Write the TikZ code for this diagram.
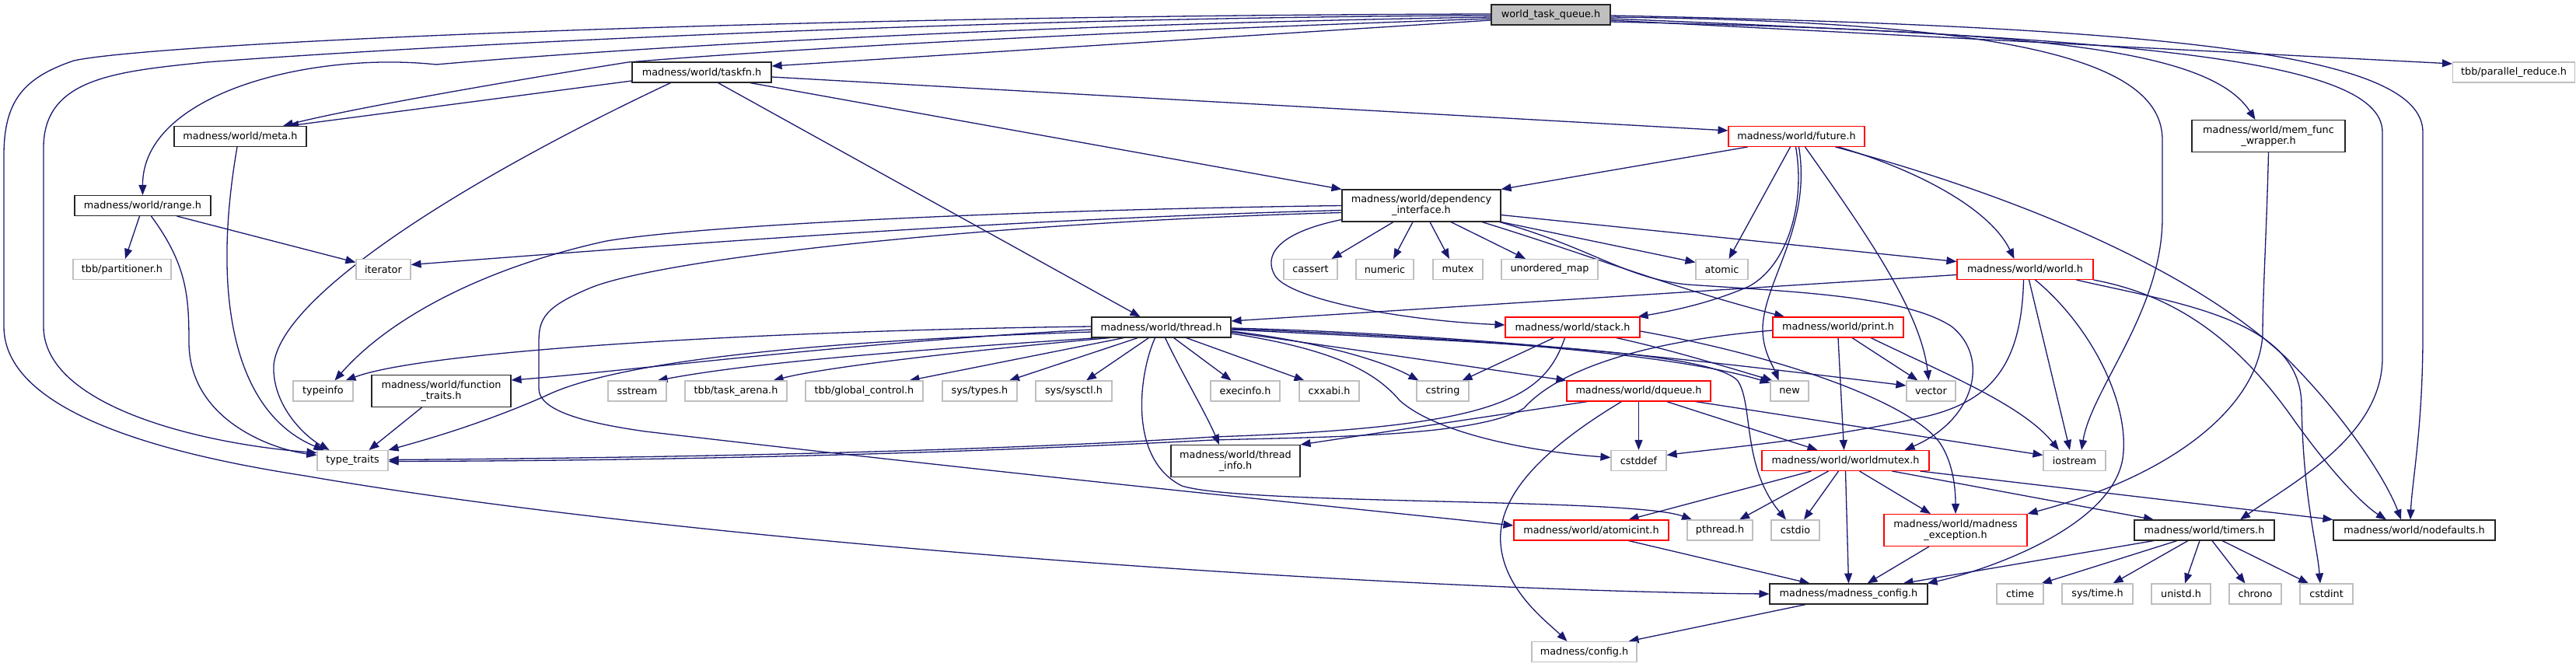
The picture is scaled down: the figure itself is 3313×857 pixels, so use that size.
\documentclass[tikz,border=0pt]{standalone}
\usepackage{fontspec}
\setmainfont{DejaVu Sans}
\usetikzlibrary{arrows.meta,backgrounds}
\definecolor{edgec}{RGB}{25,25,112}
\definecolor{extc}{RGB}{191,191,191}
\definecolor{rootc}{RGB}{191,191,191}
\newcommand{\nf}{\fontsize{12.8}{14}\selectfont}
\begin{document}
\begin{tikzpicture}[x=1pt,y=-1pt,
 nbase/.style={inner sep=0pt, minimum height=26pt, font=\nf, fill=white, align=center},
 doc/.style={nbase, draw=black!85, line width=1.1pt},
 ext/.style={nbase, draw=extc, line width=1.1pt},
 trunc/.style={nbase, draw=red, line width=1.1pt},
 rootn/.style={nbase, draw=black!85, fill=rootc, line width=1.1pt},
 tall/.style={minimum height=41pt},
 edge/.style={draw=edgec, line width=1.3pt, arrows={-Triangle[length=13pt,width=10pt]}}
]
\useasboundingbox (0,0) rectangle (3313,857);
% nodes
\node[rootn, minimum width=153pt] (root) at (1994.5,19) {world\_task\_queue.h};
\node[doc, minimum width=179pt] (taskfn) at (902.5,93) {madness/world/taskfn.h};
\node[doc, minimum width=170pt] (meta) at (309,175.5) {madness/world/meta.h};
\node[doc, minimum width=175pt] (range) at (183.5,264.5) {madness/world/range.h};
\node[ext, minimum width=126pt] (partitioner) at (157,346.5) {tbb/partitioner.h};
\node[ext, minimum width=70pt] (iterator) at (493,346.5) {iterator};
\node[trunc, minimum width=175pt] (future) at (2310.5,175.5) {madness/world/future.h};
\node[doc, tall, minimum width=197pt] (memfunc) at (2917.5,175) {madness/world/mem\_func\\\_wrapper.h};
\node[ext, minimum width=157pt] (preduce) at (3233,93) {tbb/parallel\_reduce.h};
\node[doc, tall, minimum width=204pt] (dep) at (1828,264.5) {madness/world/dependency\\\_interface.h};
\node[ext, minimum width=69pt] (cassert) at (1685.5,346.5) {cassert};
\node[ext, minimum width=74pt] (numeric) at (1781,346.5) {numeric};
\node[ext, minimum width=64pt] (mutex) at (1875,346.5) {mutex};
\node[ext, minimum width=124pt] (umap) at (1993,346.5) {unordered\_map};
\node[ext, minimum width=67pt] (atomic) at (2214.5,346.5) {atomic};
\node[trunc, minimum width=175pt] (world) at (2604.5,346.5) {madness/world/world.h};
\node[doc, minimum width=179pt] (thread) at (1493.5,421) {madness/world/thread.h};
\node[trunc, minimum width=173pt] (stack) at (2022.5,421) {madness/world/stack.h};
\node[trunc, minimum width=168pt] (print) at (2364,421) {madness/world/print.h};
\node[ext, minimum width=77pt] (typeinfo) at (415.5,503) {typeinfo};
\node[doc, tall, minimum width=179pt] (ftraits) at (567.5,503) {madness/world/function\\\_traits.h};
\node[ext, minimum width=75pt] (sstream) at (819.5,503) {sstream};
\node[ext, minimum width=131pt] (tarena) at (946.5,503) {tbb/task\_arena.h};
\node[ext, minimum width=151pt] (gcontrol) at (1111.5,503) {tbb/global\_control.h};
\node[ext, minimum width=96pt] (systypes) at (1260,503) {sys/types.h};
\node[ext, minimum width=98pt] (sysctl) at (1381,503) {sys/sysctl.h};
\node[ext, minimum width=89pt] (execinfo) at (1601.5,503) {execinfo.h};
\node[ext, minimum width=77pt] (cxxabi) at (1709.5,503) {cxxabi.h};
\node[ext, minimum width=67pt] (cstring) at (1855.5,503) {cstring};
\node[trunc, minimum width=185pt] (dqueue) at (2107.5,503) {madness/world/dqueue.h};
\node[ext, minimum width=49pt] (newh) at (2301.5,503) {new};
\node[ext, minimum width=63pt] (vector) at (2483.5,503) {vector};
\node[ext, minimum width=91pt] (ttraits) at (453.5,592.5) {type\_traits};
\node[doc, tall, minimum width=166pt] (tinfo) at (1589,593) {madness/world/thread\\\_info.h};
\node[ext, minimum width=71pt] (cstddef) at (2107.5,592.5) {cstddef};
\node[trunc, minimum width=215pt] (wmutex) at (2373.5,592.5) {madness/world/worldmutex.h};
\node[ext, minimum width=80pt] (iostream) at (2668,592.5) {iostream};
\node[trunc, minimum width=199pt] (aint) at (2046.5,682) {madness/world/atomicint.h};
\node[ext, minimum width=84pt] (pthread) at (2212,682) {pthread.h};
\node[ext, minimum width=62pt] (cstdio) at (2309,682) {cstdio};
\node[trunc, tall, minimum width=184pt] (mexc) at (2515,682) {madness/world/madness\\\_exception.h};
\node[doc, minimum width=180pt] (timers) at (2835,682) {madness/world/timers.h};
\node[doc, minimum width=208pt] (nodef) at (3105,682) {madness/world/nodefaults.h};
\node[doc, minimum width=203pt] (mconfig) at (2377.5,764) {madness/madness\_config.h};
\node[ext, minimum width=60pt] (ctime) at (2598,764) {ctime};
\node[ext, minimum width=91pt] (systime) at (2697.5,764) {sys/time.h};
\node[ext, minimum width=76pt] (unistd) at (2805,764) {unistd.h};
\node[ext, minimum width=67pt] (chrono) at (2900.5,764) {chrono};
\node[ext, minimum width=68pt] (cstdint) at (2992,764) {cstdint};
\node[ext, minimum width=135pt] (config) at (2037.5,838.5) {madness/config.h};

\begin{scope}[on background layer]
\fill[white] (0,0) rectangle (3313,857);
% root
\draw[edge] ([yshift=-7pt]root.west) -- ([yshift=8pt]taskfn.east);
\draw[edge] ([yshift=-5pt]root.west) .. controls (1300,45) and (950,68) .. (808,80) .. controls (650,105) and (450,140) .. ([xshift=55pt]meta.north);
\draw[edge] ([yshift=-3pt]root.west) .. controls (1300,32) and (800,62) .. (561,83) .. controls (400,66) and (183,120) .. (range.north);
\draw[edge] ([yshift=-1pt]root.west) .. controls (1300,22) and (600,55) .. (265,80) .. controls (150,92) and (56,100) .. (56,190) -- (56,420) .. controls (56,520) and (250,570) .. ([yshift=10pt]ttraits.west);
\draw[edge] ([yshift=1pt]root.west) .. controls (1000,20) and (200,55) .. (95,78) .. controls (30,100) and (5,130) .. (5,200) -- (5,420) .. controls (5,540) and (250,590) .. (392,612) .. controls (900,700) and (1800,760) .. (mconfig.west);
\draw[edge] ([yshift=-7pt]root.east) -- ([yshift=11pt]preduce.west);
\draw[edge] ([yshift=-3pt]root.east) .. controls (2600,28) and (2781,80) .. (2781,180) -- (2781,280) .. controls (2781,400) and (2690,500) .. ([xshift=9pt]iostream.north);
\draw[edge] ([yshift=-9pt]root.east) .. controls (2600,40) and (2840,60) .. ([xshift=-17pt]memfunc.north);
\draw[edge] ([yshift=-5pt]root.east) .. controls (2700,50) and (3064,70) .. (3064,170) -- (3064,460) .. controls (3064,560) and (2950,620) .. ([xshift=46pt]timers.north);
\draw[edge] ([yshift=-1pt]root.east) .. controls (2800,35) and (3116,70) .. (3116,170) -- (3116,430) .. controls (3116,550) and (3102,620) .. ([xshift=-5pt]nodef.north);
% taskfn
\draw[edge] ([yshift=-11pt]taskfn.west) -- ([xshift=62pt]meta.north);
\draw[edge] ([xshift=-40pt]taskfn.south) .. controls (600,230) and (360,380) .. (352,470) .. controls (350,520) and (390,560) .. ([xshift=-30pt]ttraits.north);
\draw[edge] ([yshift=-6pt]taskfn.east) -- ([yshift=7.5pt]future.west);
\draw[edge] ([xshift=62pt]taskfn.south) -- (dep.north west);
\draw[edge] ([xshift=21pt]taskfn.south) -- ([xshift=-27pt]thread.north);
% meta, range
\draw[edge] ([xshift=-4pt]meta.south) .. controls (272,380) and (300,530) .. ([xshift=-37pt]ttraits.north);
\draw[edge] ([xshift=-4pt]range.south) -- ([xshift=4pt]partitioner.north);
\draw[edge] ([xshift=44pt]range.south) -- ([yshift=9pt]iterator.west);
\draw[edge] ([xshift=11pt]range.south) .. controls (240,340) and (243,380) .. (243,440) .. controls (243,540) and (350,578) .. ([yshift=7pt]ttraits.west);
% dependency
\draw[edge] (dep.west) .. controls (1300,270) and (900,290) .. (780,310) .. controls (620,345) and (500,410) .. ([xshift=15pt]typeinfo.north);
\draw[edge] ([yshift=-6pt]dep.west) .. controls (1300,282) and (900,312) .. ([yshift=6pt]iterator.east);
\draw[edge] ([yshift=-9pt]dep.west) .. controls (1300,285) and (860,330) .. (760,370) .. controls (700,395) and (693,410) .. (693,440) -- (693,500) .. controls (693,530) and (760,545) .. (830,555) .. controls (1300,610) and (1700,650) .. ([yshift=6pt]aint.west);
\draw[edge] ([yshift=-18pt]dep.west) .. controls (1640,300) and (1625,330) .. (1640,355) .. controls (1660,385) and (1800,412) .. ([yshift=3pt]stack.west);
\draw[edge] ([xshift=-36pt]dep.south) -- ([xshift=27pt]cassert.north);
\draw[edge] ([xshift=-11pt]dep.south) -- ([xshift=11pt]numeric.north);
\draw[edge] ([xshift=11pt]dep.south) -- ([xshift=-11pt]mutex.north);
\draw[edge] ([xshift=38pt]dep.south) -- ([xshift=-31pt]umap.north);
\draw[edge] ([xshift=78pt]dep.south) .. controls (2050,330) and (2150,370) .. ([xshift=-69pt]print.north);
\draw[edge] (dep.south east) -- ([yshift=9pt]atomic.west);
\draw[edge] ([xshift=-2pt]dep.south east) .. controls (2050,320) and (2090,358) .. (2170,366) .. controls (2300,375) and (2450,380) .. (2510,420) .. controls (2560,460) and (2540,540) .. ([xshift=76pt]wmutex.north);
\draw[edge] ([yshift=-12pt]dep.east) -- ([yshift=10pt]world.west);
% future
\draw[edge] ([xshift=-63pt]future.south) -- (dep.north east);
\draw[edge] ([xshift=-8pt]future.south) -- ([xshift=9pt]atomic.north);
\draw[edge] ([xshift=-1pt]future.south) .. controls (2322,260) and (2300,340) .. (2250,368) .. controls (2200,390) and (2150,400) .. ([xshift=-3pt]stack.north east);
\draw[edge] ([xshift=3pt]future.south) .. controls (2330,290) and (2270,360) .. (2267,420) .. controls (2266,450) and (2280,470) .. ([xshift=-14pt]newh.north);
\draw[edge] ([xshift=11pt]future.south) .. controls (2400,300) and (2470,400) .. ([xshift=-3pt]vector.north);
\draw[edge] ([xshift=50pt]future.south) .. controls (2550,240) and (2800,330) .. (2940,460) .. controls (3020,540) and (3070,620) .. ([xshift=-17pt]nodef.north);
\draw[edge] ([xshift=54pt]future.south) .. controls (2470,220) and (2560,270) .. ([xshift=-14pt]world.north);
% mem_func
\draw[edge] (memfunc.south) .. controls (2915,300) and (2910,380) .. (2910,430) .. controls (2905,520) and (2800,610) .. (mexc.north east);
% world
\draw[edge] ([yshift=-7pt]world.west) -- ([yshift=8pt]thread.east);
\draw[edge] ([xshift=-2pt]world.south) .. controls (2600,470) and (2560,515) .. (2480,535) .. controls (2350,565) and (2200,578) .. ([yshift=7pt]cstddef.east);
\draw[edge] ([xshift=5pt]world.south) -- ([xshift=-6pt]iostream.north);
\draw[edge] ([xshift=13pt]world.south) .. controls (2690,420) and (2740,520) .. (2730,590) .. controls (2715,680) and (2550,735) .. ([xshift=-1pt]mconfig.north east);
\draw[edge] ([xshift=66pt]world.south) .. controls (2800,390) and (2958,410) .. (2960,520) .. controls (2962,640) and (2980,700) .. ([xshift=-8pt]cstdint.north);
\draw[edge] (world.south east) .. controls (2800,380) and (2880,440) .. (2950,540) .. controls (3000,610) and (3040,650) .. ([xshift=-36pt]nodef.north);
% thread
\draw[edge] ([yshift=1pt]thread.west) .. controls (1000,425) and (550,450) .. ([xshift=29pt]typeinfo.north);
\draw[edge] ([yshift=-3pt]thread.west) .. controls (1100,440) and (800,478) .. ([yshift=14pt]ftraits.east);
\draw[edge] ([yshift=-6pt]thread.west) .. controls (1000,440) and (780,470) .. (700,510) .. controls (620,545) and (550,565) .. (ttraits.north east);
\draw[edge] ([xshift=-80pt]thread.south) .. controls (1100,455) and (950,470) .. ([xshift=26pt]sstream.north);
\draw[edge] ([xshift=-66pt]thread.south) .. controls (1200,455) and (1050,475) .. ([xshift=48pt]tarena.north);
\draw[edge] ([xshift=-48pt]thread.south) -- ([xshift=58pt]gcontrol.north);
\draw[edge] ([xshift=-30pt]thread.south) -- ([xshift=38pt]systypes.north);
\draw[edge] ([xshift=-16pt]thread.south) -- ([xshift=16pt]sysctl.north);
\draw[edge] ([xshift=16pt]thread.south) -- ([xshift=-18pt]execinfo.north);
\draw[edge] ([xshift=32pt]thread.south) -- ([xshift=-32pt]cxxabi.north);
\draw[edge] ([xshift=5pt]thread.south) .. controls (1520,480) and (1550,530) .. ([xshift=-21pt]tinfo.north);
\draw[edge] ([xshift=-8pt]thread.south) .. controls (1465,480) and (1450,590) .. (1520,625) .. controls (1600,650) and (2100,640) .. ([xshift=-36pt]pthread.north);
\draw[edge] ([yshift=-5pt]thread.east) .. controls (1700,440) and (1780,465) .. ([xshift=-31pt]cstring.north);
\draw[edge] ([yshift=-6pt]thread.east) -- (dqueue.north west);
\draw[edge] ([yshift=-8pt]thread.east) .. controls (1720,450) and (1770,480) .. (1800,515) .. controls (1850,560) and (1980,582) .. ([yshift=4pt]cstddef.west);
\draw[edge] ([yshift=-2pt]thread.east) .. controls (1900,435) and (2150,455) .. ([yshift=-3pt]newh.north west);
\draw[edge] ([yshift=-1pt]thread.east) .. controls (1900,430) and (2200,465) .. ([yshift=7pt]vector.west);
\draw[edge] ([yshift=-3pt]thread.east) .. controls (1900,440) and (2200,450) .. (2235,490) .. controls (2255,520) and (2240,600) .. ([xshift=-12pt]cstdio.north);
% stack
\draw[edge] ([xshift=-24pt]stack.south) -- ([xshift=25pt]cstring.north);
\draw[edge] ([xshift=-10pt]stack.south) .. controls (1985,515) and (1920,550) .. (1560,562) .. controls (1200,585) and (700,590) .. ([yshift=1pt]ttraits.east);
\draw[edge] ([xshift=56pt]stack.south) .. controls (2150,450) and (2230,475) .. ([xshift=3pt]newh.north west);
\draw[edge] ([yshift=-5pt]stack.east) .. controls (2300,460) and (2460,520) .. (2495,570) .. controls (2515,600) and (2515,640) .. (mexc.north);
% print
\draw[edge] (print.south) -- ([xshift=-2pt]wmutex.north);
\draw[edge] ([xshift=18pt]print.south) -- ([xshift=-17pt]vector.north);
\draw[edge] ([xshift=42pt]print.south) .. controls (2500,480) and (2600,520) .. ([xshift=-20pt]iostream.north);
\draw[edge] ([yshift=-4pt]print.west) .. controls (2100,440) and (2000,480) .. (1960,525) .. controls (1900,562) and (1700,562) .. (1560,566) .. controls (1100,590) and (700,593) .. ([yshift=-1pt]ttraits.east);
% dqueue
\draw[edge] ([xshift=-66pt]dqueue.south) -- (tinfo.north east);
\draw[edge] (dqueue.south) -- (cstddef.north);
\draw[edge] ([xshift=36pt]dqueue.south) -- ([xshift=-36pt]wmutex.north);
\draw[edge] ([xshift=73pt]dqueue.south) -- ([yshift=7pt]iostream.west);
\draw[edge] ([xshift=-22pt]dqueue.south) .. controls (1980,580) and (1925,640) .. (1930,700) .. controls (1935,760) and (1990,800) .. ([xshift=-22pt]config.north);
% worldmutex
\draw[edge] ([xshift=-44pt]wmutex.south) -- ([xshift=48pt]aint.north);
\draw[edge] ([xshift=-22pt]wmutex.south) -- ([xshift=25pt]pthread.north);
\draw[edge] ([xshift=-9pt]wmutex.south) -- ([xshift=11pt]cstdio.north);
\draw[edge] (wmutex.south) -- (mconfig.north);
\draw[edge] ([xshift=18pt]wmutex.south) -- ([xshift=-32pt]mexc.north);
\draw[edge] ([xshift=60pt]wmutex.south) -- ([xshift=-65pt]timers.north);
\draw[edge] ([xshift=96pt]wmutex.south) -- (nodef.north west);
% others
\draw[edge] ([xshift=48pt]aint.south) -- ([xshift=-50pt]mconfig.north);
\draw[edge] ([xshift=-34pt]mexc.south) -- ([xshift=24pt]mconfig.north);
\draw[edge] ([xshift=-65pt]timers.south) -- ([xshift=70pt]mconfig.north);
\draw[edge] ([xshift=-35pt]timers.south) -- ([xshift=-3pt]ctime.north east);
\draw[edge] ([xshift=-21pt]timers.south) -- ([xshift=20pt]systime.north);
\draw[edge] ([xshift=-6pt]timers.south) -- ([xshift=5pt]unistd.north);
\draw[edge] ([xshift=10pt]timers.south) -- ([xshift=-13pt]chrono.north);
\draw[edge] ([xshift=23pt]timers.south) -- ([xshift=-23pt]cstdint.north);
\draw[edge] ([xshift=-55pt]mconfig.south) -- ([xshift=57pt]config.north);
\draw[edge] ([xshift=-25pt]ftraits.south) -- ([xshift=21pt]ttraits.north);
\end{scope}
\end{tikzpicture}
\end{document}
